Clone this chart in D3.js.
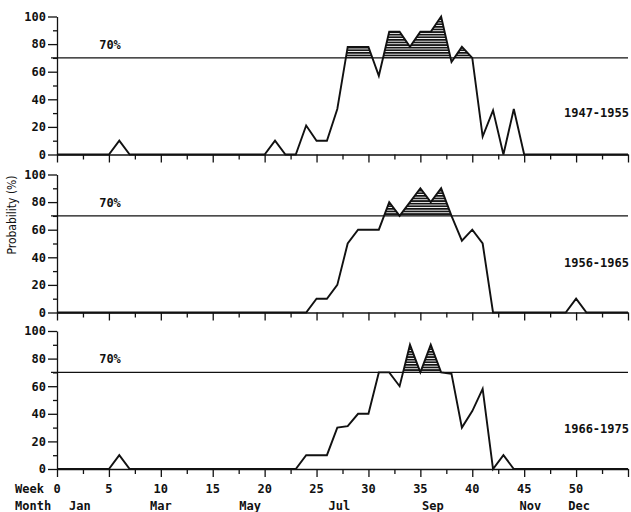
<!DOCTYPE html>
<html>
<head>
<meta charset="utf-8">
<script src="https://cdn.jsdelivr.net/npm/d3@7"></script>
<style>
  body { margin: 0; background: #fff; }
  text { font-family: "DejaVu Sans Mono", monospace; font-size: 12px; font-weight: bold; fill: #111; }
  .axis path, .axis line { stroke: #111; stroke-width: 1.3; }
</style>
</head>
<body>
<script>
// weekly probability (%) of a rainy week, per period, weeks 0..55
var periods = ["1947-1955", "1956-1965", "1966-1975"];

var p1947 = [0,0,0,0,0, 0,10,0,0,0, 0,0,0,0,0, 0,0,0,0,0,
             0,10,0,0,21, 10,10,33,78,78, 78,57,89,89,78, 89,89,100,67,78,
             70,13,32,0,33, 0,0,0,0,0, 0,0,0,0,0, 0];
var p1956 = [0,0,0,0,0, 0,0,0,0,0, 0,0,0,0,0, 0,0,0,0,0,
             0,0,0,0,0, 10,10,20,50,60, 60,60,80,70,80, 90,80,90,70,52,
             60,50,0,0,0, 0,0,0,0,0, 10,0,0,0,0, 0];
var p1966 = [0,0,0,0,0, 0,10,0,0,0, 0,0,0,0,0, 0,0,0,0,0,
             0,0,0,0,10, 10,10,30,31,40, 40,70,70,60,90, 70,90,70,69,30,
             42,58,0,10,0, 0,0,0,0,0, 0,0,0,0,0, 0];
var series = [p1947, p1956, p1966];

var yMajor = [0, 20, 40, 60, 80, 100];
var yMinor = [10, 30, 50, 70, 90];
var weekMajor = [0, 5, 10, 15, 20, 25, 30, 35, 40, 45, 50, 55];
var weekMinor = [2.5, 7.5, 12.5, 17.5, 22.5, 27.5, 32.5, 37.5, 42.5, 47.5, 52.5];
var weekLabels = [0, 5, 10, 15, 20, 25, 30, 35, 40, 45, 50];
var months = ["Jan", "Mar", "May", "Jul", "Sep", "Nov", "Dec"];
var monthWeeks = [2.2, 10, 18.6, 27.2, 36.2, 45.6, 50.3];
var threshold = 70;

var width = 631, height = 512;
var panelBase = [154.5, 312.5, 469];
var panelH = 138;
var labelY = [117, 267, 433];

var svg = d3.select("body").append("svg")
    .attr("width", width)
    .attr("height", height);

// horizontal hatching for the part above 70%
var defs = svg.append("defs");
var pat = defs.append("pattern")
    .attr("id", "hatch")
    .attr("width", 4).attr("height", 2.6)
    .attr("patternUnits", "userSpaceOnUse");
pat.append("rect").attr("width", 4).attr("height", 2.6).attr("fill", "#fff");
pat.append("rect").attr("width", 4).attr("height", 1.7).attr("fill", "#111");

var x = d3.scaleLinear().domain([0, 55]).range([57, 628]);

series.forEach(function(vals, i) {
  var y = d3.scaleLinear().domain([0, 100]).range([panelBase[i], panelBase[i] - panelH]);
  var g = svg.append("g");

  // clip to the region above the 70% line
  defs.append("clipPath").attr("id", "above" + i)
    .append("rect")
      .attr("x", x(0)).attr("y", 0)
      .attr("width", x(55) - x(0))
      .attr("height", y(threshold));

  var area = d3.area()
      .x(function(d, k) { return x(k); })
      .y0(y(0))
      .y1(function(d) { return y(d); });

  g.append("path")
      .datum(vals)
      .attr("d", area)
      .attr("fill", "url(#hatch)")
      .attr("clip-path", "url(#above" + i + ")");

  // y axis
  g.append("g")
      .attr("class", "axis")
      .attr("transform", "translate(" + x(0) + ",0)")
      .call(d3.axisLeft(y).tickValues(yMajor).tickSize(9).tickSizeOuter(0).tickPadding(2))
      .call(function(a) { a.attr("font-family", null).attr("font-size", null); });
  g.append("g")
      .attr("class", "axis")
      .attr("transform", "translate(" + x(0) + ",0)")
      .call(d3.axisLeft(y).tickValues(yMinor).tickSize(4).tickFormat(""))
      .call(function(a) { a.select(".domain").remove(); });

  // x axis
  g.append("g")
      .attr("class", "axis")
      .attr("transform", "translate(0," + y(0) + ")")
      .call(d3.axisBottom(x).tickValues(weekMajor).tickSize(8).tickSizeOuter(0).tickFormat(""));
  g.append("g")
      .attr("class", "axis")
      .attr("transform", "translate(0," + y(0) + ")")
      .call(d3.axisBottom(x).tickValues(weekMinor).tickSize(5).tickFormat(""))
      .call(function(a) { a.select(".domain").remove(); });

  // 70% line
  g.append("line")
      .attr("x1", 51).attr("x2", 628)
      .attr("y1", y(threshold)).attr("y2", y(threshold))
      .attr("stroke", "#111").attr("stroke-width", 1.4);
  g.append("text")
      .attr("x", 110).attr("y", y(threshold) - 9)
      .attr("text-anchor", "middle")
      .text("70%");

  // the weekly line
  g.append("path")
      .datum(vals)
      .attr("d", d3.line().x(function(d, k) { return x(k); }).y(function(d) { return y(d); }))
      .attr("fill", "none")
      .attr("stroke", "#111")
      .attr("stroke-width", 1.9)
      .attr("stroke-linejoin", "miter");

  g.append("text")
      .attr("x", 629).attr("y", labelY[i])
      .attr("text-anchor", "end")
      .text(periods[i]);

  if (i == series.length - 1) {
    g.selectAll(".wk")
      .data(weekLabels)
      .enter().append("text")
        .attr("x", function(d) { return x(d); })
        .attr("y", y(0) + 24)
        .attr("text-anchor", "middle")
        .text(function(d) { return d; });
    g.selectAll(".mo")
      .data(months)
      .enter().append("text")
        .attr("x", function(d, k) { return x(monthWeeks[k]); })
        .attr("y", y(0) + 41)
        .attr("text-anchor", "middle")
        .text(function(d) { return d; });
    g.append("text").attr("x", 15).attr("y", y(0) + 24).text("Week");
    g.append("text").attr("x", 15).attr("y", y(0) + 41).text("Month");
  }
});

// y label
svg.append("text")
    .attr("transform", "translate(16,215) rotate(-90)")
    .attr("text-anchor", "middle")
    .style("font-family", "'DejaVu Sans Condensed', sans-serif")
    .style("font-weight", "normal")
    .style("font-size", "12px")
    .text("Probability (%)");
</script>
</body>
</html>
